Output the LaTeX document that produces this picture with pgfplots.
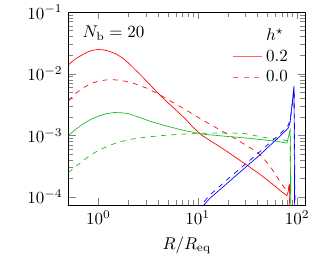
\documentclass[border=0pt]{standalone}
\usepackage{pgfplots}
\pgfplotsset{compat=1.18}
\definecolor{mygreen}{RGB}{30,185,30}
\begin{document}
\begin{tikzpicture}
\begin{axis}[
  name=ax,
  xmode=log, ymode=log,
  scale only axis,
  width=139pt, height=113.5pt,
  xmin=0.5, xmax=120,
  ymin=7.4e-5, ymax=0.1,
  xlabel={$R/R_{\rm eq}$},
  xtick={1,10,100},
  ytick={1e-4,1e-3,1e-2,1e-1},
  legend style={at={(rel axis cs:0.965,0.95)}, anchor=north east, draw=none, fill=none, font=\normalsize},
  legend cell align=left,
]
\addlegendimage{empty legend}
\addlegendentry{$h^\star$}
\addlegendimage{red!60}
\addlegendentry{$0.2$}
\addlegendimage{red!60, dashed}
\addlegendentry{$0.0$}

\addplot[red, forget plot] coordinates {(0.5,1.4e-2)(0.55,1.6e-2)(0.6,1.78e-2)(0.7,2.06e-2)(0.8,2.3e-2)(0.9,2.42e-2)(1.0,2.47e-2)(1.1,2.45e-2)(1.25,2.35e-2)(1.5,2.1e-2)(1.75,1.8e-2)(2.0,1.5e-2)(2.5,1.05e-2)(3.1,7.4e-3)(4.1,4.6e-3)(5,3.4e-3)(6,2.6e-3)(7.5,1.85e-3)(9,1.35e-3)(11,1.0e-3)(15,7.3e-4)(20,5.4e-4)(25,4.2e-4)(32,3.2e-4)(40,2.5e-4)(50,1.9e-4)(60,1.5e-4)(70,1.22e-4)(79,1.05e-4)(82,1.3e-4)(84,1.6e-4)(84.3,1e-5)};
\addplot[red, dashed, forget plot] coordinates {(0.5,3.6e-3)(0.55,4.3e-3)(0.6,4.9e-3)(0.7,5.9e-3)(0.85,7.0e-3)(1.0,7.6e-3)(1.2,7.95e-3)(1.4,8.0e-3)(1.7,7.8e-3)(2.2,7.1e-3)(3.1,5.8e-3)(4,4.7e-3)(4.9,3.9e-3)(7,2.8e-3)(11,1.8e-3)(18,1.15e-3)(25,8.5e-4)(32,6.6e-4)(39,5.5e-4)(45,4.4e-4)(53,3.2e-4)(60,2.4e-4)(67,1.8e-4)(75,1.4e-4)(80,1.25e-4)(82,1.4e-4)(84,1.65e-4)(84.3,1e-5)};
\addplot[mygreen, forget plot] coordinates {(0.5,1.0e-3)(0.6,1.28e-3)(0.7,1.53e-3)(0.85,1.84e-3)(1.0,2.05e-3)(1.2,2.25e-3)(1.45,2.35e-3)(1.7,2.33e-3)(2.0,2.25e-3)(2.5,2.0e-3)(3.3,1.7e-3)(4.6,1.45e-3)(7,1.22e-3)(11,1.05e-3)(20,9.6e-4)(30,9.1e-4)(42,8.6e-4)(63,8.0e-4)(79,7.5e-4)(85,1.2e-3)(87,1e-5)};
\addplot[mygreen, dashed, forget plot] coordinates {(0.5,2.5e-4)(0.6,3.2e-4)(0.7,3.9e-4)(0.85,4.9e-4)(1.0,5.7e-4)(1.3,6.9e-4)(1.6,7.8e-4)(2.15,8.7e-4)(3,9.4e-4)(4.6,1.0e-3)(7,1.05e-3)(11,1.08e-3)(20,1.1e-3)(30,1.07e-3)(42,9.6e-4)(55,8.9e-4)(70,8.5e-4)(80,8.2e-4)(85.5,1.2e-3)(87.5,1e-5)};
\addplot[blue, forget plot] coordinates {(10.5,6.3e-5)(13.2,9.5e-5)(20,1.7e-4)(30,3.0e-4)(42,4.8e-4)(60,8.2e-4)(75,1.15e-3)(81,1.3e-3)(85,1.6e-3)(89,3.2e-3)(93,6.3e-3)(95,1e-5)};
\addplot[blue, dashed, forget plot] coordinates {(10,6.3e-5)(13,1.05e-4)(20,1.95e-4)(30,3.4e-4)(42,5.4e-4)(60,9.0e-4)(75,1.25e-3)(81,1.45e-3)(85,1.75e-3)(89,3.0e-3)(93.5,5.5e-3)(96,1e-5)};

\node at (rel axis cs:0.19,0.89) {$N_{\rm b} = 20$};
\end{axis}
\pgfresetboundingbox
\path[use as bounding box] ([shift={(-40.3pt,-31.8pt)}]ax.south west) rectangle ([shift={(5.9pt,7.1pt)}]ax.north east);
\end{tikzpicture}
\end{document}
